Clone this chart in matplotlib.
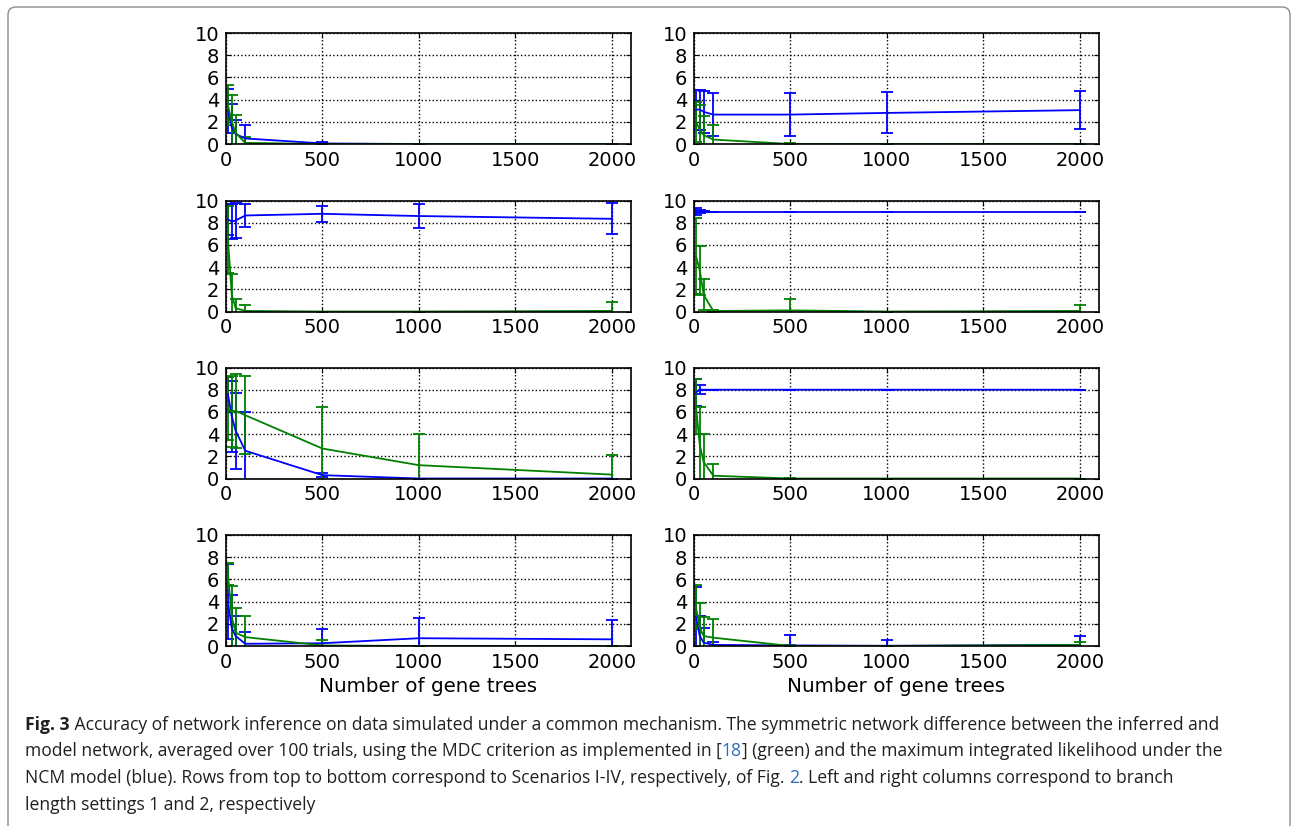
import numpy as np
import matplotlib
matplotlib.use("Agg")
import matplotlib.pyplot as plt
from matplotlib.patches import FancyBboxPatch

# number of gene trees
gene_trees = [10, 30, 50, 100, 500, 1000, 2000]

# NCM (blue) and MDC (green) means / error bars, panels by [row][col]
ncm_mean = [
    [[3.0, 1.5, 0.9, 0.5, 0.05, 0.0, 0.0], [3.1, 3.1, 2.9, 2.65, 2.65, 2.8, 3.05]],
    [[8.3, 8.1, 8.2, 8.65, 8.8, 8.6, 8.35], [9.0, 9.0, 9.0, 9.0, 9.0, 9.0, 9.0]],
    [[7.6, 5.6, 4.3, 2.5, 0.3, 0.0, 0.0], [7.75, 8.0, 8.0, 8.0, 8.0, 8.0, 8.0]],
    [[4.0, 1.6, 0.9, 0.2, 0.25, 0.7, 0.6], [2.6, 0.9, 0.3, 0.1, 0.05, 0.02, 0.1]],
]
ncm_err = [
    [[2.0, 2.1, 1.3, 1.25, 0.1, 0.0, 0.0], [1.8, 1.8, 1.9, 1.9, 1.9, 1.85, 1.7]],
    [[1.4, 1.6, 1.6, 1.0, 0.7, 1.1, 1.4], [0.35, 0.15, 0.05, 0.0, 0.0, 0.0, 0.0]],
    [[1.5, 3.2, 3.4, 3.5, 0.2, 0.0, 0.0], [1.2, 0.4, 0.0, 0.0, 0.0, 0.0, 0.0]],
    [[3.4, 3.0, 1.8, 1.1, 1.25, 1.8, 1.7], [2.75, 1.8, 1.3, 0.3, 0.95, 0.5, 0.8]],
]
mdc_mean = [
    [[3.5, 2.0, 1.0, 0.1, 0.0, 0.0, 0.0], [2.0, 1.3, 0.8, 0.4, 0.0, 0.0, 0.0]],
    [[6.5, 1.5, 0.3, 0.05, 0.0, 0.0, 0.05], [5.0, 3.7, 1.5, 0.05, 0.1, 0.0, 0.05]],
    [[6.3, 6.0, 6.1, 5.7, 2.7, 1.2, 0.35], [6.5, 3.0, 1.5, 0.25, 0.0, 0.0, 0.0]],
    [[6.5, 2.6, 1.2, 0.8, 0.05, 0.0, 0.0], [3.5, 1.6, 0.9, 0.75, 0.0, 0.0, 0.1]],
]
mdc_err = [
    [[1.8, 2.4, 1.6, 0.5, 0.0, 0.0, 0.0], [1.8, 2.2, 1.7, 1.3, 0.05, 0.0, 0.0]],
    [[3.0, 1.9, 0.85, 0.5, 0.0, 0.0, 0.8], [3.4, 2.2, 1.4, 0.1, 1.0, 0.0, 0.55]],
    [[2.8, 3.2, 3.35, 3.5, 3.7, 2.8, 1.75], [2.5, 3.4, 2.5, 1.1, 0.05, 0.0, 0.0]],
    [[1.0, 2.85, 2.2, 1.9, 0.5, 0.0, 0.0], [2.0, 2.3, 1.7, 1.7, 0.05, 0.0, 0.3]],
]

xticks = [0, 500, 1000, 1500, 2000]
yticks = [0, 2, 4, 6, 8, 10]
xlabel = "Number of gene trees"

W, H = 1292, 826
fig = plt.figure(figsize=(W / 100, H / 100), dpi=100)
fig.patch.set_facecolor("white")

# panel placement in pixels
col_left = [226, 694]
ax_w = 405
row_top = [33, 200.5, 367.5, 535]
ax_h = 111

for r in range(4):
    for c in range(2):
        ax = fig.add_axes([col_left[c] / W, 1 - (row_top[r] + ax_h) / H, ax_w / W, ax_h / H])
        ax.errorbar(gene_trees, ncm_mean[r][c], yerr=ncm_err[r][c], color="b",
                    lw=1.3, capsize=4, capthick=1.3)
        ax.errorbar(gene_trees, mdc_mean[r][c], yerr=mdc_err[r][c], color="g",
                    lw=1.3, capsize=4, capthick=1.3)
        ax.set_xlim(0, 2100)
        ax.set_ylim(0, 10)
        ax.set_xticks(xticks)
        ax.set_yticks(yticks)
        ax.grid(True, color="k", linestyle=":", linewidth=1.0)
        ax.tick_params(direction="in", top=True, right=True, length=3.5,
                       labelsize=14, pad=5)
        for s in ax.spines.values():
            s.set_linewidth(1.2)
        if r == 3:
            ax.set_xlabel(xlabel, fontsize=14.3, labelpad=4)

# border frame around figure and caption
frame = FancyBboxPatch((0.08, -1.0), 12.82, 9.19,
                       boxstyle="round,pad=0,rounding_size=0.08",
                       transform=fig.dpi_scale_trans, facecolor="none",
                       edgecolor="#8c8c8c", lw=1.0)
fig.patches.append(frame)

# caption with bold label and blue references
txt_col = "#231f20"
link_col = "#2a6ebb"
cap_lines = [
    [("Fig. 3", "bold", txt_col),
     (" Accuracy of network inference on data simulated under a common mechanism. "
      "The symmetric network difference between the inferred and", "normal", txt_col)],
    [("model network, averaged over 100 trials, using the MDC criterion as implemented in [", "normal", txt_col),
     ("18", "normal", link_col),
     ("] (green) and the maximum integrated likelihood under the", "normal", txt_col)],
    [("NCM model (blue). Rows from top to bottom correspond to Scenarios I-IV, respectively, of Fig. ", "normal", txt_col),
     ("2", "normal", link_col),
     (". Left and right columns correspond to branch", "normal", txt_col)],
    [("length settings 1 and 2, respectively", "normal", txt_col)],
]
line_y = [725, 751.5, 778, 804.5]

renderer = fig.canvas.get_renderer()
for segs, yy in zip(cap_lines, line_y):
    x = 25
    for s, wgt, col in segs:
        t = fig.text(x / W, 1 - yy / H, s, fontsize=12.65, fontweight=wgt, color=col,
                     family=["Open Sans", "DejaVu Sans"], va="center", ha="left")
        x += t.get_window_extent(renderer).width

fig.savefig("out.png", dpi=100)
